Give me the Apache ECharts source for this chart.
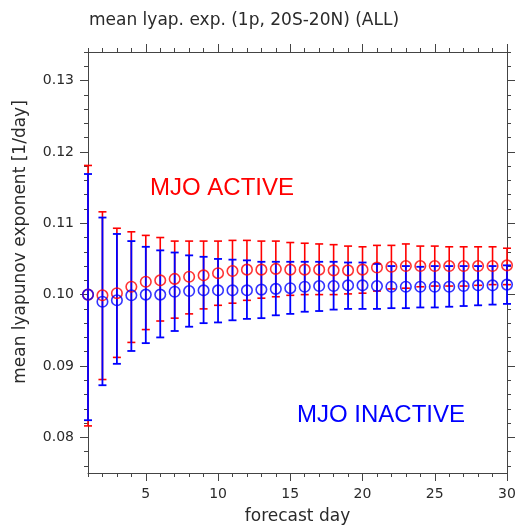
<!DOCTYPE html>
<html>
<head>
<meta charset="utf-8">
<script src="https://cdn.jsdelivr.net/npm/echarts@6/dist/echarts.min.js"></script>
<style>
html,body{margin:0;padding:0;background:#fff;}
#chart{width:518px;height:526px;}
</style>
</head>
<body>
<div id="chart"></div>
<script>
// ---- data ----
var days = [1,2,3,4,5,6,7,8,9,10,11,12,13,14,15,16,17,18,19,20,21,22,23,24,25,26,27,28,29,30];
var activeMean = [0.1000,0.0999,0.1002,0.1011,0.1018,0.1020,0.1022,0.1025,0.1027,0.1030,0.1033,0.1035,0.1035,0.1036,0.1035,0.1035,0.1035,0.1034,0.1034,0.1035,0.1038,0.1039,0.1040,0.1040,0.1040,0.1040,0.1040,0.1040,0.1040,0.1041];
var activeHigh = [0.1181,0.1116,0.1093,0.1088,0.1083,0.1080,0.1075,0.1075,0.1075,0.1075,0.1076,0.1076,0.1075,0.1075,0.1073,0.1072,0.1071,0.1070,0.1068,0.1067,0.1069,0.1069,0.1071,0.1068,0.1068,0.1067,0.1067,0.1067,0.1067,0.1065];
var activeLow = [0.0816,0.0881,0.0912,0.0933,0.0951,0.0963,0.0967,0.0973,0.0980,0.0985,0.0988,0.0992,0.0995,0.0997,0.0999,0.1000,0.1000,0.1000,0.1001,0.1002,0.1005,0.1008,0.1009,0.1011,0.1012,0.1012,0.1012,0.1013,0.1014,0.1014];
var inactiveMean = [0.1000,0.0990,0.0992,0.0999,0.1000,0.1000,0.1004,0.1005,0.1006,0.1006,0.1006,0.1006,0.1007,0.1008,0.1009,0.1011,0.1012,0.1012,0.1013,0.1013,0.1012,0.1011,0.1011,0.1011,0.1011,0.1011,0.1012,0.1013,0.1013,0.1014];
var inactiveHigh = [0.1169,0.1108,0.1085,0.1075,0.1067,0.1062,0.1059,0.1055,0.1053,0.1050,0.1049,0.1048,0.1046,0.1046,0.1046,0.1046,0.1046,0.1046,0.1045,0.1045,0.1043,0.1040,0.1040,0.1039,0.1040,0.1040,0.1040,0.1040,0.1040,0.1041];
var inactiveLow = [0.0824,0.0873,0.0903,0.0921,0.0932,0.0940,0.0949,0.0955,0.0960,0.0961,0.0964,0.0966,0.0967,0.0971,0.0973,0.0976,0.0977,0.0979,0.0980,0.0980,0.0980,0.0981,0.0981,0.0982,0.0982,0.0983,0.0984,0.0985,0.0986,0.0987];

var xMajorTicks = [5,10,15,20,25,30];
var yMajorTicks = [0.08,0.09,0.10,0.11,0.12,0.13];
var xRange = [1, 30];
var yRange = [0.075, 0.134];
var xMinorStep = 1;
var yMinorStep = 0.002;

var titleText = 'mean lyap. exp. (1p, 20S-20N) (ALL)';
var xTitle = 'forecast day';
var yTitle = 'mean lyapunov exponent [1/day]';
var activeLabel = 'MJO ACTIVE';
var inactiveLabel = 'MJO INACTIVE';

// ---- helpers ----
function range(a, b, step) {
  var out = [];
  var n = Math.round((b - a) / step);
  for (var i = 0; i <= n; i++) out.push(+(a + i * step).toFixed(6));
  return out;
}
var xMinorTicks = range(xRange[0], xRange[1], xMinorStep);
var yMinorTicks = range(0.076, yRange[1], yMinorStep);

var AX = '#444';
var TXT = '#2a2a2a';
var FONT = 'DejaVu Sans';
var RED = '#ff0000';
var BLUE = '#0000ff';

function xAxisDef(pos, ticks, len, showLabel, showLine) {
  return {
    type: 'value', position: pos, min: xRange[0], max: xRange[1],
    axisLine: {show: showLine, onZero: false, lineStyle: {color: AX, width: 1}},
    axisTick: {show: true, inside: false, length: len, customValues: ticks, lineStyle: {color: AX, width: 1}},
    axisLabel: {show: showLabel, customValues: ticks, margin: 14, color: TXT, fontFamily: FONT, fontSize: 14},
    splitLine: {show: false}
  };
}
function yAxisDef(pos, ticks, len, showLabel, showLine) {
  return {
    type: 'value', position: pos, min: yRange[0], max: yRange[1],
    axisLine: {show: showLine, onZero: false, lineStyle: {color: AX, width: 1}},
    axisTick: {show: true, inside: false, length: len, customValues: ticks, lineStyle: {color: AX, width: 1}},
    axisLabel: {show: showLabel, customValues: ticks, margin: 14, color: TXT, fontFamily: FONT, fontSize: 14,
      formatter: function (v) { return v.toFixed(2); }},
    splitLine: {show: false}
  };
}

function errData(low, high) {
  return days.map(function (d, i) { return [d, low[i], high[i]]; });
}
function errSeries(low, high, color, width) {
  return {
    type: 'custom', xAxisIndex: 0, yAxisIndex: 0,
    data: errData(low, high),
    silent: true,
    renderItem: function (params, api) {
      var lo = api.coord([api.value(0), api.value(1)]);
      var hi = api.coord([api.value(0), api.value(2)]);
      var hw = 4;
      var st = {stroke: color, lineWidth: width, fill: null};
      return {
        type: 'group',
        children: [
          {type: 'line', shape: {x1: lo[0], y1: lo[1], x2: hi[0], y2: hi[1]}, style: st},
          {type: 'line', shape: {x1: lo[0] - hw, y1: lo[1], x2: lo[0] + hw, y2: lo[1]}, style: st},
          {type: 'line', shape: {x1: hi[0] - hw, y1: hi[1], x2: hi[0] + hw, y2: hi[1]}, style: st}
        ]
      };
    },
    z: 3
  };
}
function meanSeries(mean, color) {
  return {
    type: 'scatter', xAxisIndex: 0, yAxisIndex: 0,
    data: days.map(function (d, i) { return [d, mean[i]]; }),
    symbol: 'circle', symbolSize: 10.5,
    itemStyle: {color: 'rgba(0,0,0,0)', borderColor: color, borderWidth: 1.6},
    silent: true, z: 4
  };
}

var chart = echarts.init(document.getElementById('chart'), null, {renderer: 'canvas'});
chart.setOption({
  animation: false,
  backgroundColor: '#fff',
  grid: {left: 88, right: 11, top: 52, bottom: 53, containLabel: false, outerBoundsMode: 'none'},
  xAxis: [
    xAxisDef('bottom', xMajorTicks, 8, true, true),
    xAxisDef('bottom', xMinorTicks, 4, false, false),
    xAxisDef('top', xMajorTicks, 8, false, true),
    xAxisDef('top', xMinorTicks, 4, false, false)
  ],
  yAxis: [
    yAxisDef('left', yMajorTicks, 8, true, true),
    yAxisDef('left', yMinorTicks, 4, false, false),
    yAxisDef('right', yMajorTicks, 8, false, true),
    yAxisDef('right', yMinorTicks, 4, false, false)
  ],
  graphic: [
    {type: 'text', left: 89, top: 12, style: {text: titleText, fill: TXT, font: '17px "DejaVu Sans"'}},
    {type: 'text', x: 297.5, y: 517, style: {text: xTitle, fill: TXT, font: '17px "DejaVu Sans"', textAlign: 'center', textVerticalAlign: 'middle'}},
    {type: 'text', x: 21, y: 242, rotation: Math.PI / 2, style: {text: yTitle, fill: TXT, font: '17px "DejaVu Sans"', textAlign: 'center', textVerticalAlign: 'middle'}},
    {type: 'text', x: 222, y: 188, style: {text: activeLabel, fill: RED, font: '24px "Liberation Sans"', textAlign: 'center', textVerticalAlign: 'middle'}},
    {type: 'text', x: 381, y: 415, style: {text: inactiveLabel, fill: BLUE, font: '24px "Liberation Sans"', textAlign: 'center', textVerticalAlign: 'middle'}}
  ],
  series: [
    errSeries(activeLow, activeHigh, RED, 1.6),
    meanSeries(activeMean, RED),
    errSeries(inactiveLow, inactiveHigh, BLUE, 1.8),
    meanSeries(inactiveMean, BLUE)
  ]
});
</script>
</body>
</html>
